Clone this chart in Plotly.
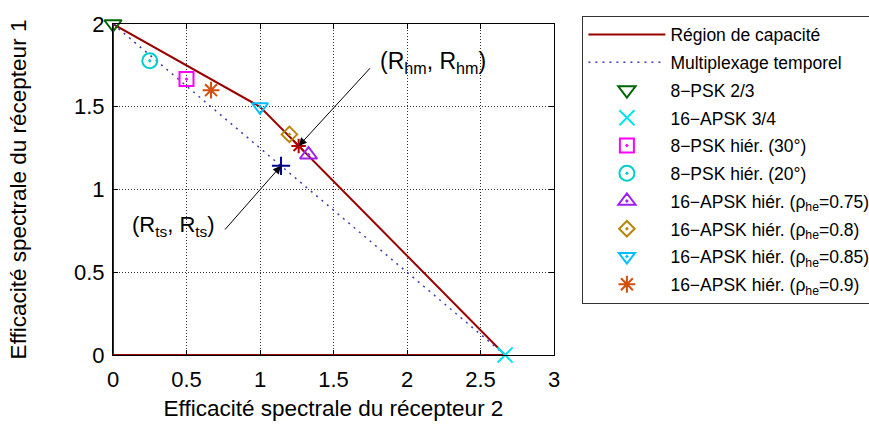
import plotly.graph_objects as go

# Capacity region boundary (closed polygon along the axes)
cap_x = [0, 0, 1.0, 2.667, 0]
cap_y = [0, 2.0, 1.5, 0, 0]

# Time-sharing line between the two single-user points
ts_x = [0, 2.667]
ts_y = [2.0, 0]

# Operating points of the modulation schemes
points_names = [
    "8\u2212PSK 2/3",
    "16\u2212APSK 3/4",
    "8\u2212PSK hiér. (30°)",
    "8\u2212PSK hiér. (20°)",
    "16\u2212APSK hiér. (ρ<sub>he</sub>=0.75)",
    "16\u2212APSK hiér. (ρ<sub>he</sub>=0.8)",
    "16\u2212APSK hiér. (ρ<sub>he</sub>=0.85)",
    "16\u2212APSK hiér. (ρ<sub>he</sub>=0.9)",
]
points_x = [0.0, 2.667, 0.5, 0.25, 1.33, 1.2, 1.0, 0.667]
points_y = [2.0, 0.0, 1.667, 1.778, 1.21, 1.333, 1.5, 1.6]
points_symbol = [
    "triangle-down-open", "x-thin-open", "square-open-dot", "circle-open-dot",
    "triangle-up-open-dot", "diamond-open-dot", "triangle-down-open-dot",
    "asterisk-open",
]
points_color = [
    "#006400", "#00e5ee", "#ff00ff", "#00cdcd",
    "#a020f0", "#b8860b", "#00bfff", "#d2500f",
]
points_size = [15, 15, 14, 15, 15, 12, 14, 14]

# Symmetric-rate points
r_hm = 1.263
r_ts = 1.143

font_family = "Liberation Sans, Arial, Helvetica, sans-serif"

fig = go.Figure()

fig.add_trace(go.Scatter(
    x=cap_x, y=cap_y, mode="lines", name="Région de capacité",
    line=dict(color="#9b0000", width=2), cliponaxis=False, legendgroup="a",
))
fig.add_trace(go.Scatter(
    x=ts_x, y=ts_y, mode="lines", name="Multiplexage temporel",
    line=dict(color="#3c3cb4", width=1.5, dash="2px,5px"), legendgroup="b",
))
for i, name in enumerate(points_names):
    fig.add_trace(go.Scatter(
        x=[points_x[i]], y=[points_y[i]], mode="markers", name=name,
        marker=dict(symbol=points_symbol[i], size=points_size[i],
                    color=points_color[i], line=dict(width=2, color=points_color[i])),
        cliponaxis=False, legendgroup="p%d" % i,
    ))

fig.add_trace(go.Scatter(
    x=[r_hm], y=[r_hm], mode="markers", showlegend=False,
    marker=dict(symbol="asterisk-open", size=12, color="#b00000",
                line=dict(width=2, color="#b00000")),
))
fig.add_trace(go.Scatter(
    x=[r_ts], y=[r_ts], mode="markers", showlegend=False,
    marker=dict(symbol="cross-thin-open", size=13, color="#000090",
                line=dict(width=2, color="#000090")),
))

# Arrows pointing to the symmetric-rate points
fig.add_annotation(x=r_hm, y=r_hm, ax=1.758, ay=1.742, axref="x", ayref="y",
                   text="", showarrow=True, arrowhead=2, arrowsize=1.6,
                   arrowwidth=1, arrowcolor="black", standoff=0)
fig.add_annotation(x=r_ts, y=r_ts, ax=0.753, ay=0.749, axref="x", ayref="y",
                   text="", showarrow=True, arrowhead=2, arrowsize=1.6,
                   arrowwidth=1, arrowcolor="black", standoff=0)
fig.add_annotation(x=1.80, y=1.77, text="(R<sub>hm</sub>, R<sub>hm</sub>)",
                   showarrow=False, xanchor="left", yanchor="middle",
                   font=dict(size=23, color="black", family=font_family))
fig.add_annotation(x=0.71, y=0.78, text="(R<sub>ts</sub>, R<sub>ts</sub>)",
                   showarrow=False, xanchor="right", yanchor="middle",
                   font=dict(size=22, color="black", family=font_family))

axis_common = dict(
    showline=True, linecolor="black", linewidth=1, mirror="ticks",
    ticks="inside", ticklen=5, tickcolor="black",
    showgrid=True, gridcolor="#333333", griddash="1px,2px", gridwidth=1,
    zeroline=False, tickfont=dict(size=22, color="black", family=font_family),
)

fig.update_xaxes(range=[0, 3], tickvals=[0, 0.5, 1, 1.5, 2, 2.5, 3],
                 ticktext=["0", "0.5", "1", "1.5", "2", "2.5", "3"],
                 ticklabelstandoff=5,
                 title=dict(text="Efficacité spectrale du récepteur 2",
                            font=dict(size=22.5, color="black", family=font_family),
                            standoff=8),
                 **axis_common)
fig.update_yaxes(range=[0, 2], tickvals=[0, 0.5, 1, 1.5, 2],
                 ticktext=["0", "0.5", "1", "1.5", "2"],
                 ticklabelstandoff=3,
                 title=dict(text="Efficacité spectrale du récepteur 1",
                            font=dict(size=22.5, color="black", family=font_family),
                            standoff=41),
                 **axis_common)

# The figure is a little wider than the window so the legend runs past its right edge.
fig_width = 900
fig_height = 429
plot_top = 11.7
plot_h = fig_height - plot_top - 73.5
legend_top = 3
fig.update_layout(
    width=fig_width, height=fig_height,
    margin=dict(l=113.3, r=fig_width - 554.3, t=plot_top, b=73.5),
    paper_bgcolor="white", plot_bgcolor="white",
    font=dict(family=font_family, color="black"),
    legend=dict(x=1.0644, xanchor="left",
                y=1 + (plot_top - legend_top) / plot_h, yanchor="top",
                maxheight=420,
                bordercolor="#333333", borderwidth=1, bgcolor="white",
                font=dict(size=17.5, color="black", family=font_family),
                itemwidth=77, tracegroupgap=2, traceorder="grouped"),
    showlegend=True,
)

fig.write_html(
    "out.html",
    post_script="document.documentElement.style.overflow='hidden';"
                "document.body.style.overflow='hidden';",
)
